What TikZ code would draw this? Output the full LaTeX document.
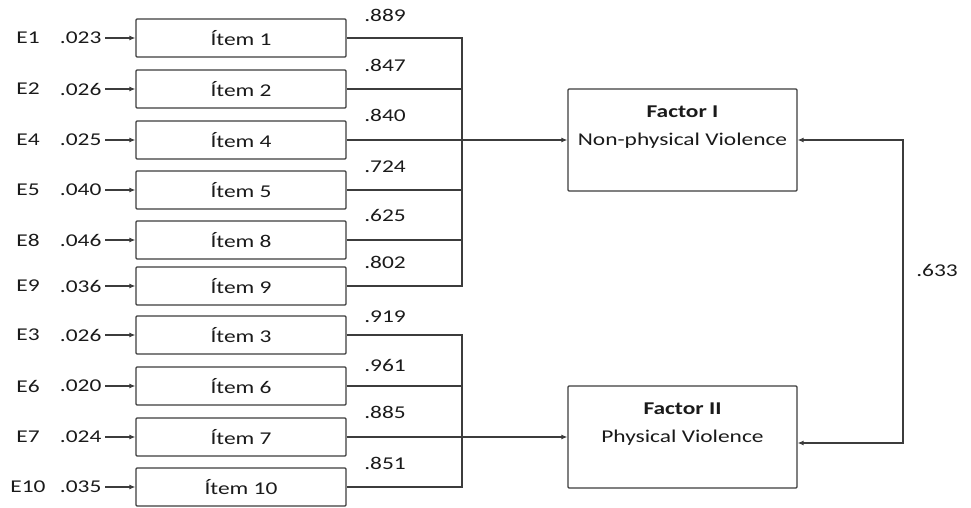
\documentclass[tikz,border=0pt]{standalone}
\usepackage{fontspec}
\setmainfont{Carlito}[FakeStretch=1.3]
\usetikzlibrary{arrows.meta}
\definecolor{ink}{HTML}{1A1A1A}
\definecolor{wire}{HTML}{3C3C3C}

\begin{document}
\begin{tikzpicture}[x=1pt,y=-1pt,
  font=\fontsize{18}{28}\selectfont,text=ink,
  itembox/.style={draw=wire,line width=1.3pt,rounded corners=1pt,
    minimum width=210pt,minimum height=38pt,inner sep=0pt},
  factorbox/.style={draw=wire,line width=1.3pt,rounded corners=1pt,
    minimum width=229pt,minimum height=102pt,align=center,inner sep=0pt},
  link/.style={wire,line width=1.1pt},
  tip/.style={link,-{Latex[length=6pt,width=5pt]}}]
  \useasboundingbox (0,0) rectangle (971,508);

  % Factors
  \node[factorbox] (f1) at (682.5,140) {\textbf{Factor I}\\Non-physical Violence\\~};
  \node[factorbox] (f2) at (682.5,437) {\textbf{Factor II}\\Physical Violence\\~};

  % Factor I items
  \node[itembox] (i1) at (241,38) {Ítem 1};
  \node (e1) at (28,38) {E1};
  \node[anchor=east] (v1) at (105,38) {.023};
  \draw[tip] (v1.east) -- (i1.west);
  \node (l1) at (385,15) {.889};

  \node[itembox] (i2) at (241,89) {Ítem 2};
  \node (e2) at (28,89) {E2};
  \node[anchor=east] (v2) at (105,89) {.026};
  \draw[tip] (v2.east) -- (i2.west);
  \node (l2) at (385,65) {.847};

  \node[itembox] (i4) at (241,140) {Ítem 4};
  \node (e4) at (28,140) {E4};
  \node[anchor=east] (v4) at (105,140) {.025};
  \draw[tip] (v4.east) -- (i4.west);
  \node (l4) at (385,115) {.840};

  \node[itembox] (i5) at (241,190) {Ítem 5};
  \node (e5) at (28,190) {E5};
  \node[anchor=east] (v5) at (105,190) {.040};
  \draw[tip] (v5.east) -- (i5.west);
  \node (l5) at (385,167) {.724};

  \node[itembox] (i8) at (241,240) {Ítem 8};
  \node (e8) at (28,240) {E8};
  \node[anchor=east] (v8) at (105,240) {.046};
  \draw[tip] (v8.east) -- (i8.west);
  \node (l8) at (385,215) {.625};

  \node[itembox] (i9) at (241,286) {Ítem 9};
  \node (e9) at (28,286) {E9};
  \node[anchor=east] (v9) at (105,286) {.036};
  \draw[tip] (v9.east) -- (i9.west);
  \node (l9) at (385,262) {.802};

  % Factor II items
  \node[itembox] (i3) at (241,335) {Ítem 3};
  \node (e3) at (28,335) {E3};
  \node[anchor=east] (v3) at (105,335) {.026};
  \draw[tip] (v3.east) -- (i3.west);
  \node (l3) at (385,317) {.919};

  \node[itembox] (i6) at (241,386) {Ítem 6};
  \node (e6) at (28,386) {E6};
  \node[anchor=east] (v6) at (105,386) {.020};
  \draw[tip] (v6.east) -- (i6.west);
  \node (l6) at (385,365) {.961};

  \node[itembox] (i7) at (241,437) {Ítem 7};
  \node (e7) at (28,437) {E7};
  \node[anchor=east] (v7) at (105,437) {.024};
  \draw[tip] (v7.east) -- (i7.west);
  \node (l7) at (385,412) {.885};

  \node[itembox] (i10) at (241,487) {Ítem 10};
  \node (e10) at (28,487) {E10};
  \node[anchor=east] (v10) at (105,487) {.035};
  \draw[tip] (v10.east) -- (i10.west);
  \node (l10) at (385,463) {.851};

  % Buses to the factors
  \coordinate (busA) at (462,0);
  \draw[link] (i1.east) -- (i1.east -| busA) -- (i9.east -| busA) -- (i9.east);
  \draw[link] (i2.east) -- (i2.east -| busA);
  \draw[link] (i5.east) -- (i5.east -| busA);
  \draw[link] (i8.east) -- (i8.east -| busA);
  \draw[tip] (i4.east) -- (f1.west);

  \draw[link] (i3.east) -- (i3.east -| busA) -- (i10.east -| busA) -- (i10.east);
  \draw[link] (i6.east) -- (i6.east -| busA);
  \draw[tip] (i7.east) -- (f2.west);

  % Correlation
  \coordinate (corr) at (903,0);
  \coordinate (f2r) at ([yshift=-6pt]f2.east);
  \draw[link,{Latex[length=6pt,width=5pt]}-{Latex[length=6pt,width=5pt]}]
    (f1.east) -- (f1.east -| corr) -- (f2r -| corr) -- (f2r);
  \node (r12) at (937,270) {.633};
\end{tikzpicture}
\end{document}
